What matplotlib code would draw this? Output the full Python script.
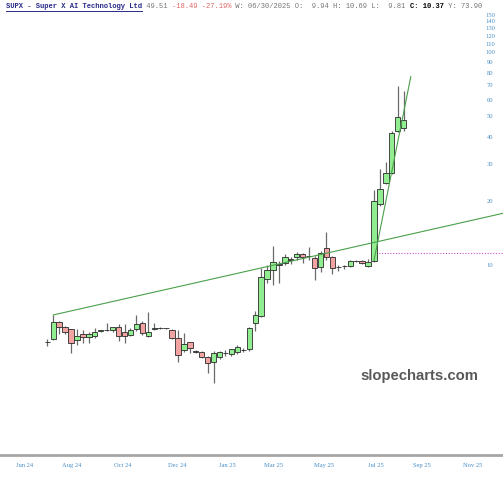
import numpy as np
import matplotlib
matplotlib.use("Agg")
import matplotlib.pyplot as plt
from matplotlib.ticker import NullLocator

# weekly candles, SUPX (week of 2024-06-24 onward)
opens = [4.33, 4.49, 5.41, 5.13, 4.98, 4.45, 4.74, 4.60, 4.64, 4.90,
         4.92, 4.95, 5.13, 4.86, 4.68, 4.98, 5.36, 4.64, 4.98, 5.04,
         5.04, 4.92, 4.55, 3.98, 4.33, 3.92, 3.89, 3.70, 3.51, 3.68,
         3.86, 3.80, 3.88, 3.97, 4.03, 5.36, 5.75, 8.56, 9.47, 10.05,
         10.20, 10.70, 10.90, 11.30, 11.05, 10.75, 9.80, 12.00, 10.85, 9.82,
         9.84, 9.93, 10.43, 10.45, 9.94, 10.40, 19.40, 24.40, 27.10, 42.80,
         43.90]
highs = [4.48, 5.82, 5.45, 5.15, 5.00, 4.98, 4.95, 4.85, 5.04, 4.95,
         5.36, 5.05, 5.27, 5.27, 5.04, 5.82, 5.45, 6.03, 5.32, 5.10,
         5.08, 4.98, 4.95, 4.81, 4.35, 3.98, 3.96, 3.75, 3.95, 3.95,
         3.98, 4.02, 4.20, 4.05, 5.10, 6.10, 9.64, 10.00, 12.30, 10.40,
         11.30, 10.90, 11.50, 11.40, 12.20, 11.00, 11.60, 14.25, 11.00, 10.00,
         10.00, 10.50, 10.60, 10.50, 10.69, 22.50, 28.40, 30.60, 42.80, 69.40,
         65.50]
lows = [4.16, 4.45, 4.74, 4.74, 3.84, 4.20, 4.28, 4.30, 4.55, 4.85,
        4.88, 4.85, 4.40, 4.28, 4.62, 4.90, 4.70, 4.60, 4.95, 5.00,
        5.00, 4.50, 3.51, 3.90, 3.84, 3.84, 3.65, 3.09, 2.79, 3.60,
        3.75, 3.74, 3.80, 3.90, 3.93, 4.90, 5.70, 8.23, 8.05, 8.20,
        10.00, 10.10, 10.50, 10.20, 10.50, 8.50, 9.30, 10.50, 9.10, 9.40,
        9.60, 9.80, 10.30, 10.10, 9.81, 10.30, 19.00, 24.00, 26.80, 42.00,
        42.50]
closes = [4.33, 5.41, 5.13, 4.86, 4.31, 4.64, 4.58, 4.74, 4.86, 4.92,
          4.93, 5.10, 4.64, 4.64, 4.92, 5.27, 4.77, 4.86, 5.04, 5.05,
          5.04, 4.55, 3.77, 4.25, 4.06, 3.91, 3.68, 3.45, 3.87, 3.91,
          3.87, 4.02, 4.13, 3.98, 5.04, 5.82, 8.81, 9.47, 10.36, 10.15,
          10.90, 10.60, 11.30, 10.90, 11.00, 9.65, 11.35, 10.90, 9.65, 9.80,
          9.85, 10.45, 10.45, 10.20, 10.37, 19.90, 22.70, 27.10, 41.60, 49.90,
          48.10]

# trend lines (week index, price)
long_trend_idx = [1, 55]
long_trend_px = [5.82, 12.76]
steep_trend_idx = [55, 61.2]
steep_trend_px = [10.5, 76.9]
level_start = 55.3
level_price = 11.42

xtick_pos = [-3.75, 4.11, 12.69, 21.84, 30.37, 38.0, 46.58, 55.29, 63.08, 71.62]
xtick_labels = ["Jun 24", "Aug 24", "Oct 24", "Dec 24", "Jan 25", "Mar 25",
                "May 25", "Jul 25", "Sep 25", "Nov 25"]
ytick_vals = [10, 20, 30, 40, 50, 60, 70, 80, 90, 100, 110, 120, 130, 140, 150]

x_min, x_max = -7.96, 76.72
y_min, y_max = 1.277, 158.2

o = np.array(opens)
h = np.array(highs)
l = np.array(lows)
c = np.array(closes)
x = np.arange(len(o))

fig = plt.figure(figsize=(5.03, 4.8), dpi=100)
ax = fig.add_axes([0, 25 / 480, 1, 445 / 480])
ax.set_yscale("log")

# wicks
ax.vlines(x, l, h, color="#6b6b6b", linewidth=0.9, zorder=2)

# bodies
face = ["#90ee90" if cc > oo else ("#f4a3a3" if cc < oo else "black") for oo, cc in zip(o, c)]
ax.bar(x, np.abs(c - o), bottom=np.minimum(o, c), width=0.9, color=face,
       edgecolor="#2a2a2a", linewidth=0.6, zorder=3)

# long trend line extended to the right edge
slope = (np.log10(long_trend_px[1]) - np.log10(long_trend_px[0])) / (long_trend_idx[1] - long_trend_idx[0])
end_val = long_trend_px[0] * 10 ** (slope * (x_max - long_trend_idx[0]))
ax.plot([long_trend_idx[0], x_max], [long_trend_px[0], end_val], color="#4aa04a", linewidth=0.8, zorder=4)
ax.plot(steep_trend_idx, steep_trend_px, color="#4aa04a", linewidth=0.8, zorder=4)
ax.plot([level_start, x_max], [level_price, level_price], color="#d050d0", linewidth=0.8,
        linestyle=(0, (1, 1.5)), zorder=1)

ax.set_xlim(x_min, x_max)
ax.set_ylim(y_min, y_max)

blue = "#4a8fc7"
ax.yaxis.tick_right()
ax.set_yticks(ytick_vals)
ax.set_yticklabels([str(v) for v in ytick_vals])
ax.yaxis.set_minor_locator(NullLocator())
ax.tick_params(axis="y", length=0, pad=-9.4, labelsize=4.7, labelcolor=blue)
for t in ax.get_yticklabels():
    t.set_horizontalalignment("center")
    t.set_fontfamily("Liberation Serif")

ax.set_xticks(xtick_pos)
ax.set_xticklabels(xtick_labels)
ax.tick_params(axis="x", length=0, pad=5.8, labelsize=4.7, labelcolor=blue)
for t in ax.get_xticklabels():
    t.set_fontfamily("Liberation Serif")

for side in ["top", "left", "right"]:
    ax.spines[side].set_visible(False)
ax.spines["bottom"].set_color("#a6a6a6")
ax.spines["bottom"].set_linewidth(2)

ax.text(419 / 503, 1 - (376 - 10) / 445, "slopecharts.com", transform=ax.transAxes,
        ha="center", va="center", fontsize=10.7, fontweight="bold",
        family="Liberation Sans", color="#595959")

# header line
segments = [
    ("SUPX - Super X AI Technology Ltd", "#2a2a8c", "bold"),
    (" 49.51 ", "#777777", "normal"),
    ("-18.49 -27.19%", "#e06666", "normal"),
    (" W: 06/30/2025 O:  9.94 H: 10.69 L:  9.81 ", "#777777", "normal"),
    ("C: 10.37", "black", "bold"),
    (" Y: 73.90", "#777777", "normal"),
]
fs = 5.1
char_w = 0.6 * fs * 100 / 72
pos = 6
for txt, col, wt in segments:
    fig.text(pos / 503, 1 - 6 / 480, txt, fontsize=fs, family="Liberation Mono",
             color=col, fontweight=wt, ha="left", va="center")
    pos += len(txt) * char_w
und_end = 6 + len(segments[0][0]) * char_w
fig.add_artist(plt.Line2D([6 / 503, und_end / 503], [1 - 11 / 480, 1 - 11 / 480],
                          color="#2a2a8c", linewidth=0.7))

fig.savefig("out.png", dpi=100)
